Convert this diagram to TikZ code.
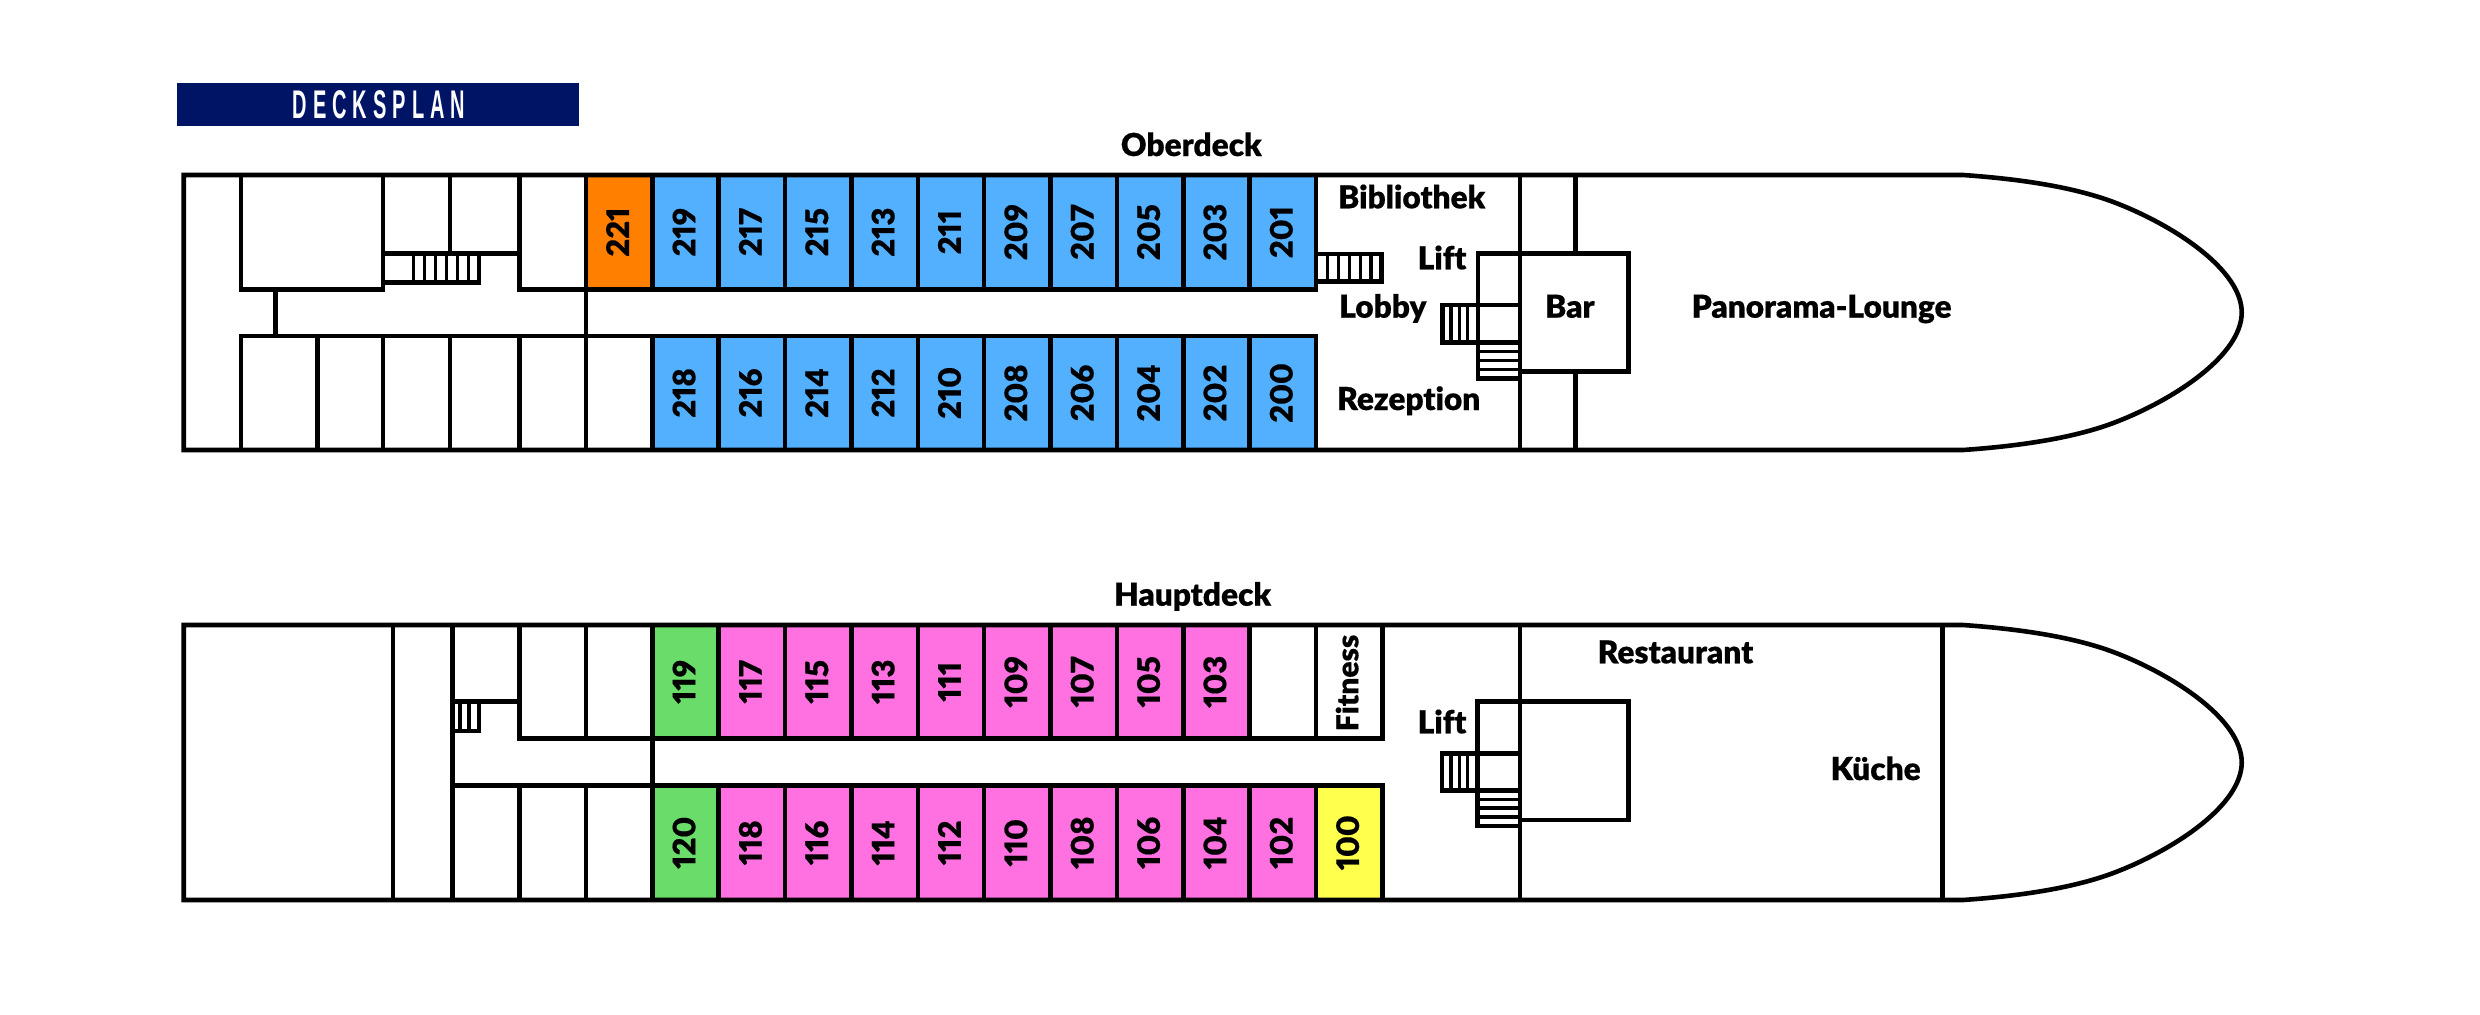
\documentclass[tikz,border=0pt]{standalone}
\usepackage{fontspec}
\newfontfamily\labfont[Numbers=Proportional,Ligatures=NoCommon,FakeBold=0.4]{Lato Black}
\newfontfamily\dkfont[LetterSpace=15,FakeStretch=0.5]{Liberation Sans Bold}
\definecolor{navy}{HTML}{001466}
\definecolor{cabblue}{HTML}{52B0FF}
\definecolor{cabpink}{HTML}{FF70E0}
\definecolor{cabgreen}{HTML}{69DC69}
\definecolor{cabyellow}{HTML}{FFFF4D}
\definecolor{caborange}{HTML}{FF8000}
\tikzset{
  wall/.style={draw=black,line width=4.6pt,line join=miter,line cap=rect},
  rung/.style={draw=black,line width=3.2pt},
  cabin/.style={draw=black,line width=4.6pt,inner sep=0pt,outer sep=0pt,minimum width=66.36pt},
  num/.style={rotate=90,anchor=base,inner sep=0pt,font=\labfont\fontsize{31}{36}\selectfont},
  vlab/.style={rotate=90,anchor=base,inner sep=0pt,font=\labfont\fontsize{30}{36}\selectfont},
  lab/.style={anchor=base west,inner sep=0pt,font=\labfont\fontsize{31.6}{38}\selectfont},
}
\begin{document}
\begin{tikzpicture}[x=1pt,y=-1pt]
\useasboundingbox (0,0) rectangle (2480,1014);
\fill[white] (0,0) rectangle (2480,1014);
% banner
\fill[navy] (177,83) rectangle (579,125.7);
\node[inner sep=0pt,text=white,anchor=base] (banner) at (379,118.5) {\dkfont\fontsize{40}{42}\selectfont DECKSPLAN};

% cabins
\def\cabrow#1#2#3#4{% row name, y-centre, height, list idx/label/colour
  \foreach \i/\t/\c in {#4}{
    \pgfmathsetmacro{\cx}{586+66.36*(\i+0.5)}
    \node[cabin,fill=\c,minimum height=#3pt] (cab#1\i) at (\cx,#2) {};
    \node[num] (num#1\i) at ([xshift=9.8pt]cab#1\i.center) {\t};
  }}
\cabrow{A}{232.15}{114.3}{0/221/caborange,1/219/cabblue,2/217/cabblue,3/215/cabblue,4/213/cabblue,5/211/cabblue,6/209/cabblue,7/207/cabblue,8/205/cabblue,9/203/cabblue,10/201/cabblue}
\cabrow{B}{393}{114}{0//white,1/218/cabblue,2/216/cabblue,3/214/cabblue,4/212/cabblue,5/210/cabblue,6/208/cabblue,7/206/cabblue,8/204/cabblue,9/202/cabblue,10/200/cabblue}
\cabrow{C}{681.75}{113.5}{1/119/cabgreen,2/117/cabpink,3/115/cabpink,4/113/cabpink,5/111/cabpink,6/109/cabpink,7/107/cabpink,8/105/cabpink,9/103/cabpink,10//white,11//white}
\cabrow{D}{842.75}{114.5}{1/120/cabgreen,2/118/cabpink,3/116/cabpink,4/114/cabpink,5/112/cabpink,6/110/cabpink,7/108/cabpink,8/106/cabpink,9/104/cabpink,10/102/cabpink,11/100/cabyellow}

% Oberdeck hull
\draw[wall] (183.7,175) -- (1963,175) .. controls (2020,179) and (2075,187) .. (2116.7,203.3)
  .. controls (2175,226) and (2241.7,270) .. (2241.7,312.5)
  .. controls (2241.7,355) and (2175,399) .. (2116.7,421.7)
  .. controls (2075,438) and (2020,446) .. (1963,450) -- (183.7,450) -- cycle;
% Oberdeck aft rooms
\draw[wall] (240.8,175) -- (240.8,289.3) -- (383,289.3) -- (383,175);
\draw[wall] (383,253.3) -- (519.4,253.3);
\draw[wall] (450,175) -- (450,253.3);
\draw[wall] (519.4,175) -- (519.4,289.3) -- (586,289.3);
\draw[wall] (383,282.7) -- (479,282.7) -- (479,253.3);
\foreach \x in {413.6,424.5,435.4,446.3,457.2,468.1}{\draw[rung] (\x,253.3) -- (\x,282.7);}
\draw[wall] (275.2,289.3) -- (275.2,336);
\draw[wall] (586,289.3) -- (586,336);
\draw[wall] (240.8,336) -- (652.4,336);
\foreach \x in {240.8,317.6,383,450,519.4,586}{\draw[wall] (\x,336) -- (\x,450);}
% Oberdeck fore
\draw[wall] (1316,281.7) -- (1381.7,281.7) -- (1381.7,254) -- (1316,254);
\foreach \x in {1327.3,1338.3,1349.2,1360.1,1371}{\draw[rung] (\x,254) -- (\x,281.7);}
\draw[wall] (1520,175) -- (1520,450);
\draw[wall] (1575.7,175) -- (1575.7,253.3);
\draw[wall] (1575.7,371.7) -- (1575.7,450);
\draw[wall] (1520,253.3) -- (1628.3,253.3) -- (1628.3,371.7) -- (1520,371.7);
\draw[wall] (1520,253.3) -- (1478,253.3) -- (1478,378.3) -- (1520,378.3);
\draw[wall] (1478,305) -- (1520,305);
\draw[wall] (1478,342.7) -- (1520,342.7);
\draw[wall] (1478,305) -- (1442.3,305) -- (1442.3,342.7) -- (1478,342.7);
\foreach \x in {1451,1459.4,1467.8}{\draw[rung] (\x,305) -- (\x,342.7);}
\foreach \y in {351.6,360.5,369.4}{\draw[rung] (1478,\y) -- (1520,\y);}

% Hauptdeck hull
\draw[wall] (183.7,625) -- (1963,625) .. controls (2020,629) and (2075,637) .. (2116.7,653.3)
  .. controls (2175,676) and (2241.7,720) .. (2241.7,762.5)
  .. controls (2241.7,805) and (2175,849) .. (2116.7,871.7)
  .. controls (2075,888) and (2020,896) .. (1963,900) -- (183.7,900) -- cycle;
\draw[wall] (393,625) -- (393,900);
\draw[wall] (452.4,625) -- (452.4,900);
\draw[wall] (1942.3,625) -- (1942.3,900);
\draw[wall] (452.4,785.5) -- (652.4,785.5);
\draw[wall] (519.4,625) -- (519.4,738.5) -- (652.4,738.5);
\draw[wall] (586,625) -- (586,738.5);
\draw[wall] (652.4,625) -- (652.4,900);
\draw[wall] (519.4,785.5) -- (519.4,900);
\draw[wall] (586,785.5) -- (586,900);
\draw[wall] (452.4,701.7) -- (519.4,701.7);
\draw[wall] (452.4,731) -- (479,731) -- (479,701.7);
\foreach \x in {460,469}{\draw[rung] (\x,701.7) -- (\x,731);}
% Hauptdeck fore
\draw[wall] (1520,625) -- (1520,900);
\draw[wall] (1520,701.7) -- (1628.3,701.7) -- (1628.3,820) -- (1520,820);
\draw[wall] (1520,701.7) -- (1477.5,701.7) -- (1477.5,826) -- (1520,826);
\draw[wall] (1477.5,753.3) -- (1520,753.3);
\draw[wall] (1477.5,790.7) -- (1520,790.7);
\draw[wall] (1477.5,753.3) -- (1442,753.3) -- (1442,790.7) -- (1477.5,790.7);
\foreach \x in {1451,1459.4,1467.8}{\draw[rung] (\x,753.3) -- (\x,790.7);}
\foreach \y in {799.5,808,817}{\draw[rung] (1477.5,\y) -- (1520,\y);}

% labels
\node[lab] (oberdeck) at (1120.7,156) {Oberdeck};
\node[lab] (hauptdeck) at (1114,605.7) {Hauptdeck};
\node[lab] (biblio) at (1338,208.3) {Bibliothek};
\node[lab] (lift1) at (1417.5,269.3) {Lift};
\node[lab] (lobby) at (1339,317.7) {Lobby};
\node[lab] (bar) at (1545,317.7) {Bar};
\node[lab] (pano) at (1691.5,317.7) {Panorama-Lounge};
\node[lab] (rezept) at (1337,410) {Rezeption};
\node[lab] (lift2) at (1417.5,733.3) {Lift};
\node[lab] (rest) at (1597.5,663.3) {Restaurant};
\node[lab] (kueche) at (1830.5,780) {Küche};
\node[vlab] (fitness) at (1358.3,683) {Fitness};
\end{tikzpicture}
\end{document}
